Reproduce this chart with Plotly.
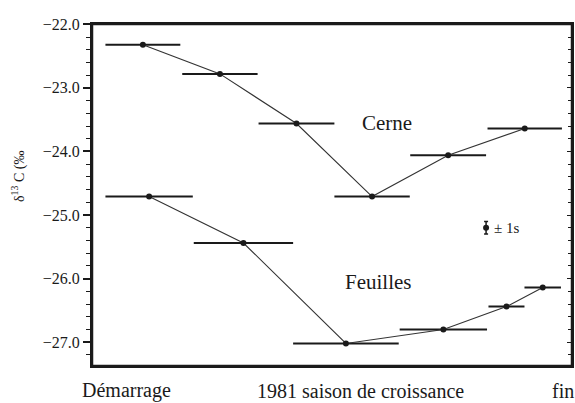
import plotly.graph_objects as go

# Time axis in arbitrary units (0 = left spine, 100 = right spine)
cerne_start = [2.8, 18.8, 34.7, 50.5, 66.3, 82.4]
cerne_end = [18.4, 34.5, 50.5, 66.2, 82.1, 97.9]
cerne_d13c = [-22.32, -22.78, -23.56, -24.71, -24.06, -23.64]

feuilles_start = [2.8, 21.2, 41.9, 64.1, 82.6, 90.1]
feuilles_end = [21.0, 41.9, 63.9, 82.3, 90.1, 97.7]
feuilles_d13c = [-24.71, -25.44, -27.02, -26.80, -26.44, -26.14]

sd_x = [82.1]
sd_y = [-25.20]
sd_err = [0.1]

x_label_pos = [7.25, 55.9, 98.2]
x_label_text = ["Démarrage", "1981 saison de croissance", "fin"]

x_range = [0, 100]
y_range = [-27.375, -21.995]

FONT = "Liberation Serif, Times New Roman, serif"
INK = "#1a1a1a"


def centers(s, e):
    return [(a + b) / 2 for a, b in zip(s, e)]


def halves(s, e):
    return [(b - a) / 2 for a, b in zip(s, e)]


fig = go.Figure()
for s, e, v in [(cerne_start, cerne_end, cerne_d13c),
                (feuilles_start, feuilles_end, feuilles_d13c)]:
    fig.add_trace(go.Scatter(
        x=centers(s, e), y=v, mode="lines+markers",
        line=dict(color="#333333", width=1.1),
        marker=dict(color=INK, size=6),
        error_x=dict(type="data", array=halves(s, e), symmetric=True,
                     width=0, thickness=2, color=INK),
        showlegend=False, hoverinfo="skip"))

fig.add_trace(go.Scatter(
    x=sd_x, y=sd_y, mode="markers",
    marker=dict(color=INK, size=6),
    error_y=dict(type="data", array=sd_err, symmetric=True,
                 width=2, thickness=1.5, color=INK),
    showlegend=False, hoverinfo="skip"))

# invisible trace carrying the right frame axis
fig.add_trace(go.Scatter(x=[50], y=[-25], yaxis="y2",
                         mode="markers", marker=dict(opacity=0),
                         showlegend=False, hoverinfo="skip"))

fig.add_annotation(x=sd_x[0] + 1.2, y=sd_y[0], text="± 1s", showarrow=False,
                   xanchor="left", yanchor="middle",
                   font=dict(family=FONT, size=15, color=INK))
fig.add_annotation(x=61.4, y=-23.55, text="Cerne", showarrow=False,
                   font=dict(family=FONT, size=21, color=INK))
fig.add_annotation(x=59.6, y=-26.05, text="Feuilles", showarrow=False,
                   font=dict(family=FONT, size=21, color=INK))
fig.add_annotation(xref="paper", yref="paper", x=-0.1785, y=0.555,
                   text="δ<sup>13</sup> C (‰", textangle=-90, showarrow=False,
                   font=dict(family=FONT, size=14, color=INK))
for xp, txt in zip(x_label_pos, x_label_text):
    fig.add_annotation(x=xp, xref="x", y=-0.072, yref="paper", text=txt,
                       showarrow=False, xanchor="center", yanchor="middle",
                       font=dict(family=FONT, size=20, color=INK))

# plot frame (top edge in particular)
fig.add_shape(type="rect", xref="paper", yref="paper", x0=0, x1=1,
              y0=0, y1=1, line=dict(color=INK, width=2.5),
              fillcolor="rgba(0,0,0,0)", layer="above")

fig.update_layout(
    width=575, height=403,
    margin=dict(l=92, r=3, t=24, b=37),
    paper_bgcolor="white", plot_bgcolor="white",
    font=dict(family=FONT, color=INK),
    xaxis=dict(range=x_range, showgrid=False, zeroline=False,
               automargin=False, showticklabels=False, ticks="",
               showline=True, linecolor=INK, linewidth=2, mirror=True),
    yaxis=dict(range=y_range, showgrid=False, zeroline=False,
               automargin=False,
               showline=True, linecolor=INK, linewidth=2,
               tick0=-22, dtick=1, tickformat=".1f",
               ticks="outside", ticklen=7, tickwidth=1.5, tickcolor=INK,
               tickfont=dict(family=FONT, size=16, color=INK),
               minor=dict(dtick=0.2, tick0=-22, ticks="outside", ticklen=4,
                          tickwidth=1.2, tickcolor=INK)),
    yaxis2=dict(range=y_range, overlaying="y", side="right",
                automargin=False,
                showgrid=False, zeroline=False, showticklabels=False,
                showline=True, linecolor=INK, linewidth=1.5,
                tick0=-22, dtick=1, ticks="inside", ticklen=5,
                tickwidth=1.2, tickcolor=INK,
                minor=dict(dtick=0.2, tick0=-22, ticks="inside", ticklen=4,
                           tickwidth=1.2, tickcolor=INK)),
)

fig.write_html("out.html", config={"displayModeBar": False},
               post_script="document.body.style.margin='0px';"
                           "document.body.style.overflow='hidden';")
